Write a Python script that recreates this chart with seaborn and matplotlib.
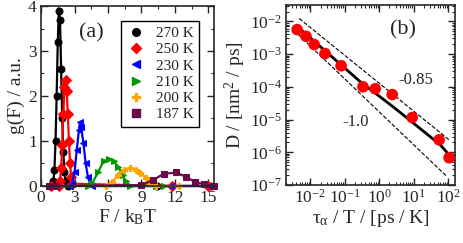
import numpy as np
import pandas as pd
import matplotlib
matplotlib.use('Agg')
import matplotlib.pyplot as plt
from matplotlib.lines import Line2D
from matplotlib.ticker import MultipleLocator, LogLocator, NullFormatter
import seaborn as sns

sns.set_style('ticks')
plt.rcParams['font.family'] = ['Liberation Serif', 'DejaVu Serif']
plt.rcParams['mathtext.fontset'] = 'custom'
plt.rcParams['mathtext.rm'] = 'Liberation Serif'
plt.rcParams['mathtext.it'] = 'Liberation Serif:italic'
plt.rcParams['mathtext.default'] = 'regular'

#%% datos panel (a): g(F) para cada temperatura
temps = ['270 K', '250 K', '230 K', '210 K', '200 K', '187 K']
colores = ['black', '#ff0000', '#0000ff', '#009a00', '#ffa500', '#6b0a4a']
marcadores = ['o', 'D', '<', '>', 'P', 's']

F_270 = [0.8, 1.0, 1.1, 1.2, 1.3, 1.4, 1.5, 1.6, 1.7, 1.8, 1.9, 2.0, 2.1, 2.2, 2.4, 10.4, 15.2]
g_270 = [0.0, 0.02, 0.1, 0.35, 1.0, 2.0, 3.2, 3.9, 3.7, 2.6, 1.5, 0.75, 0.3, 0.1, 0.0, 0.0, 0.0]
F_250 = [0.9, 1.6, 1.7, 1.8, 1.9, 2.0, 2.1, 2.2, 2.3, 2.4, 2.5, 2.6, 2.7, 2.8, 11.7, 15.0]
g_250 = [0.0, 0.0, 0.1, 0.4, 0.9, 1.6, 2.2, 2.35, 2.1, 1.6, 1.0, 0.5, 0.2, 0.05, 0.0, 0.0]
F_230 = [1.0, 2.6, 2.8, 3.0, 3.2, 3.4, 3.5, 3.6, 3.8, 4.0, 4.2, 4.4, 4.6, 11.6, 15.1]
g_230 = [0.0, 0.0, 0.05, 0.3, 0.8, 1.25, 1.42, 1.3, 0.95, 0.5, 0.2, 0.05, 0.0, 0.0, 0.0]
F_210 = [0.9, 4.2, 4.6, 5.1, 5.6, 6.1, 6.5, 6.9, 7.3, 7.6, 8.0, 10.3, 11.0]
g_210 = [0.0, 0.0, 0.07, 0.3, 0.55, 0.6, 0.55, 0.43, 0.25, 0.1, 0.0, 0.0, 0.0]
F_200 = [1.2, 5.8, 6.4, 6.9, 7.4, 8.0, 8.5, 8.9, 9.4, 9.8, 10.3, 12.4]
g_200 = [0.0, 0.0, 0.09, 0.25, 0.36, 0.4, 0.36, 0.29, 0.18, 0.07, 0.0, 0.0]
F_187 = [0.7, 1.3, 9.0, 10.0, 11.0, 12.1, 13.0, 13.8, 14.6, 15.5]
g_187 = [0.0, 0.0, 0.02, 0.13, 0.27, 0.3, 0.2, 0.09, 0.04, 0.0]

series_F = [F_270, F_250, F_230, F_210, F_200, F_187]
series_g = [g_270, g_250, g_230, g_210, g_200, g_187]

#%% datos panel (b): D vs tau/T
tau_T = [0.0042, 0.0076, 0.0131, 0.027, 0.079, 0.34, 0.77, 2.4, 9.1, 55, 107]
D = [5.6e-3, 3.5e-3, 1.96e-3, 1.04e-3, 4.4e-4, 1.0e-4, 8.7e-5, 5.8e-5, 1.15e-5, 2.4e-6, 6.8e-7]

ajuste_x = [0.0042, 0.28, 2.55, 59, 107]
ajuste_y = [7.1e-3, 1.45e-4, 2.45e-5, 1.7e-6, 8.3e-7]

guia085_x = [0.0048, 107]
guia085_y = [1.23e-2, 2.4e-6]
guia10_x = [0.0045, 93]
guia10_y = [4.0e-3, 1.8e-7]

#%% figura
fig = plt.figure(figsize=(4.63, 2.43), dpi=100)
ax1 = fig.add_axes([0.0886, 0.2346, 0.3737, 0.7407])
ax2 = fig.add_axes([0.6177, 0.2387, 0.365, 0.7407])

for F, g, c, m in zip(series_F, series_g, colores, marcadores):
    df = pd.DataFrame({'F': F, 'g': g})
    sns.lineplot(data=df, x='F', y='g', ax=ax1, color=c, marker=m, markersize=5,
                 markeredgecolor=c, linewidth=1.6, clip_on=False, sort=False)

ax1.set_xlim(0, 15.5)
ax1.set_ylim(0, 4)
ax1.xaxis.set_major_locator(MultipleLocator(3))
ax1.xaxis.set_minor_locator(MultipleLocator(1.5))
ax1.yaxis.set_major_locator(MultipleLocator(1))
ax1.yaxis.set_minor_locator(MultipleLocator(0.5))
ax1.set_xlabel(r'F / k$_B$T', fontsize=14, labelpad=1)
ax1.set_ylabel('g(F) / a.u.', fontsize=14, labelpad=2)
ax1.text(0.29, 0.85, '(a)', transform=ax1.transAxes, fontsize=16, ha='center', va='center')

handles = [Line2D([], [], ls='none', marker=m, color=c, markersize=5.5) for c, m in zip(colores, marcadores)]
leg = ax1.legend(handles, temps, loc='upper right', bbox_to_anchor=(0.913, 0.917),
                 borderaxespad=0, fancybox=False, framealpha=1, edgecolor='black',
                 fontsize=11, handlelength=1.2, handletextpad=0.7, labelspacing=0.17,
                 borderpad=0.35)
leg.get_frame().set_linewidth(1.0)

# panel (b)
sns.lineplot(x=guia085_x, y=guia085_y, ax=ax2, color='black', linestyle='--', linewidth=0.8)
sns.lineplot(x=guia10_x, y=guia10_y, ax=ax2, color='black', linestyle='--', linewidth=0.8)
sns.lineplot(x=ajuste_x, y=ajuste_y, ax=ax2, color='black', linewidth=2)
sns.scatterplot(x=tau_T, y=D, ax=ax2, color='#ff0000', s=70, edgecolor='none', zorder=3)
ax2.set_xscale('log')
ax2.set_yscale('log')
ax2.set_xlim(10**-2.7, 10**2.2)
ax2.set_ylim(1e-7, 10**-1.5)
ax2.xaxis.set_major_locator(LogLocator(base=10, numticks=10))
ax2.xaxis.set_minor_locator(LogLocator(base=10, subs=np.arange(2, 10), numticks=10))
ax2.yaxis.set_major_locator(LogLocator(base=10, numticks=10))
ax2.yaxis.set_minor_locator(LogLocator(base=10, subs=np.arange(2, 10), numticks=10))
ax2.xaxis.set_minor_formatter(NullFormatter())
ax2.yaxis.set_minor_formatter(NullFormatter())
ax2.set_xlabel(r'$\tau_\alpha$ / T / [ps / K]', fontsize=14, labelpad=1)
ax2.set_ylabel(r'D / [nm$^2$ / ps]', fontsize=14, labelpad=1)
ax2.text(0.69, 0.86, '(b)', transform=ax2.transAxes, fontsize=16, ha='center', va='center')
ax2.text(0.77, 0.585, '-0.85', transform=ax2.transAxes, fontsize=12, ha='center', va='center')
ax2.text(0.41, 0.35, '-1.0', transform=ax2.transAxes, fontsize=12, ha='center', va='center')

for ax in (ax1, ax2):
    ax.tick_params(which='both', direction='in', top=True, right=True, labelsize=12.5, pad=3)
    ax.tick_params(which='major', length=5, width=1)
    ax.tick_params(which='minor', length=2.5, width=0.8)
    for sp in ax.spines.values():
        sp.set_linewidth(1.2)

fig.savefig('out.png', dpi=100)
